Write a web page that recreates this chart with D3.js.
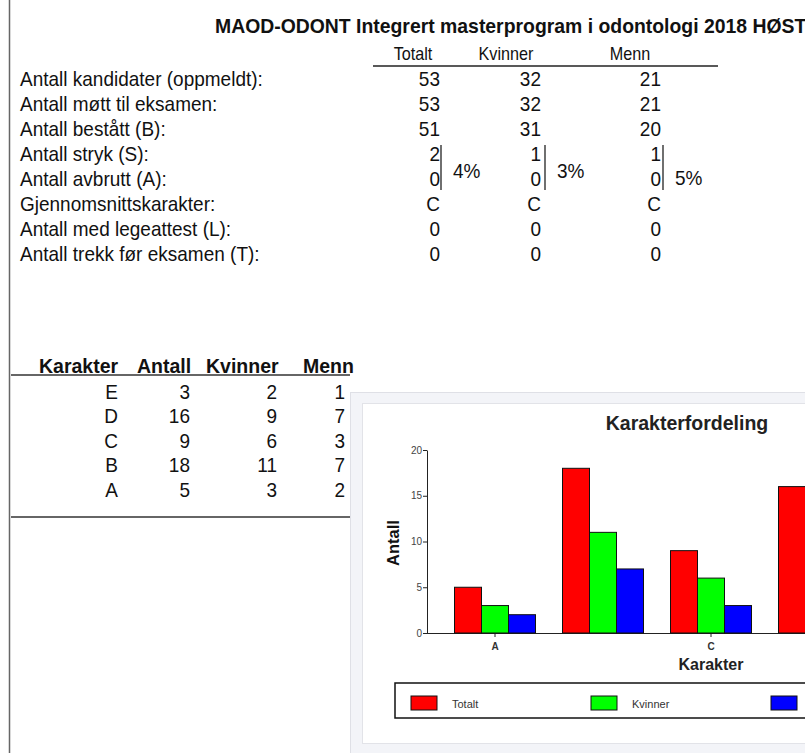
<!DOCTYPE html>
<html>
<head>
<meta charset="utf-8">
<script src="https://cdn.jsdelivr.net/npm/d3@7"></script>
<style>
  html, body { margin: 0; padding: 0; background: #fff; }
  svg { display: block; font-family: "Liberation Sans", Arial, sans-serif; }
</style>
</head>
<body>
<div id="chart"></div>
<script>
// --- data ---
const tittel = "MAOD-ODONT Integrert masterprogram i odontologi 2018 HØST";
const kolonner = ["Totalt", "Kvinner", "Menn"];
const radNavn = [
  "Antall kandidater (oppmeldt):",
  "Antall møtt til eksamen:",
  "Antall bestått (B):",
  "Antall stryk (S):",
  "Antall avbrutt (A):",
  "Gjennomsnittskarakter:",
  "Antall med legeattest (L):",
  "Antall trekk før eksamen (T):"
];
const totaltKol = ["53", "53", "51", "2", "0", "C", "0", "0"];
const kvinnerKol = ["32", "32", "31", "1", "0", "C", "0", "0"];
const mennKol = ["21", "21", "20", "1", "0", "C", "0", "0"];
const strykProsent = ["4%", "3%", "5%"];

const karakterer = ["A", "B", "C", "D", "E"];
const antall = [5, 18, 9, 16, 3];
const kvinner = [3, 11, 6, 9, 2];
const menn = [2, 7, 3, 7, 1];
const serier = ["Totalt", "Kvinner", "Menn"];
const farger = ["#ff0000", "#00ff00", "#0000ff"];
const yTicks = [0, 5, 10, 15, 20];

const W = 805, H = 753;
const svg = d3.select("#chart").append("svg").attr("width", W).attr("height", H);

// hjelpefunksjon for tekst (litt smal skrift som i originalen)
function tekst(g, x, y, s, o = {}) {
  return g.append("text")
    .attr("transform", `translate(${x},${y}) scale(${o.sx || 0.95},1)`)
    .attr("text-anchor", o.anchor || "start")
    .attr("font-size", o.size || 20)
    .attr("font-weight", o.bold ? "bold" : null)
    .attr("fill", o.fill || "#111")
    .text(s);
}

// venstre kantlinje
svg.append("line").attr("x1", 9.5).attr("x2", 9.5).attr("y1", 0).attr("y2", H)
  .attr("stroke", "#666").attr("stroke-width", 1.5);

// --- oppsummeringstabell ---
const topp = svg.append("g");
tekst(topp, 215, 33, tittel, { bold: true, size: 20, sx: 0.97 });
const kolX = [413, 506, 630];
kolonner.forEach((k, i) => tekst(topp, kolX[i], 60, k, { anchor: "middle", size: 18, sx: 0.9 }));
topp.append("line").attr("x1", 373).attr("x2", 718).attr("y1", 66).attr("y2", 66)
  .attr("stroke", "#222").attr("stroke-width", 1.5);

const radY = d3.scaleLinear().domain([0, 1]).range([85.5, 110.5]);
const verdiX = [440, 541, 661];
radNavn.forEach((r, i) => tekst(topp, 20, radY(i), r));
[totaltKol, kvinnerKol, mennKol].forEach((kol, j) => {
  kol.forEach((v, i) => tekst(topp, verdiX[j], radY(i), v, { anchor: "end" }));
});
const strekX = [441, 545, 663];
const prosentY = [178, 178, 185];
strekX.forEach((x, j) => {
  topp.append("line").attr("x1", x).attr("x2", x).attr("y1", 145).attr("y2", 190)
    .attr("stroke", "#222").attr("stroke-width", 1.3);
  tekst(topp, x + 12, prosentY[j], strykProsent[j]);
});

// --- karaktertabell ---
const kt = svg.append("g");
const ktHodeX = [39, 137, 206, 303];
["Karakter", "Antall", "Kvinner", "Menn"].forEach((h, i) =>
  tekst(kt, ktHodeX[i], 373, h, { bold: true, size: 19.5, sx: 1 }));
kt.append("line").attr("x1", 11).attr("x2", 350).attr("y1", 375).attr("y2", 375)
  .attr("stroke", "#333").attr("stroke-width", 1.5);
kt.append("line").attr("x1", 11).attr("x2", 350).attr("y1", 517).attr("y2", 517)
  .attr("stroke", "#333").attr("stroke-width", 1.5);
const ktRadY = d3.scaleLinear().domain([0, 1]).range([398.5, 423]);
const ktX = [118, 190, 277, 345];
const rekkefolge = karakterer.map((k, i) => i).reverse(); // E..A
rekkefolge.forEach((idx, r) => {
  [karakterer[idx], antall[idx], kvinner[idx], menn[idx]].forEach((v, c) =>
    tekst(kt, ktX[c], ktRadY(r), String(v), { anchor: "end" }));
});

// --- diagrampanel ---
svg.append("rect").attr("x", 350.5).attr("y", 392.5).attr("width", 500).attr("height", 400)
  .attr("fill", "#f3f4f8").attr("stroke", "#dfe0e6");
svg.append("rect").attr("x", 362.5).attr("y", 403.5).attr("width", 500).attr("height", 340)
  .attr("fill", "#fff").attr("stroke", "#e2e3e8");

const ch = svg.append("g");
tekst(ch, 687, 430, "Karakterfordeling", { anchor: "middle", bold: true, size: 19.5, sx: 1, fill: "#222" });

const y = d3.scaleLinear().domain([0, 20]).range([633, 450]);
const x0 = d3.scaleBand().domain(karakterer).range([441, 981]).paddingInner(0.25).paddingOuter(0.125);
const x1 = d3.scaleBand().domain(serier).range([0, x0.bandwidth()]);

const yAxis = ch.append("g").attr("transform", "translate(427,0)")
  .call(d3.axisLeft(y).tickValues(yTicks).tickSize(4).tickSizeOuter(0));
yAxis.select(".domain").attr("stroke", "#222");
yAxis.selectAll(".tick line").attr("stroke", "#222");
yAxis.selectAll("text").attr("font-size", 10).attr("fill", "#444").attr("dx", 2)
  .attr("font-family", "Liberation Sans, Arial, sans-serif");

// bare annenhver karakter får merke og etikett (A, C, E)
const visteKar = karakterer.filter((d, i) => i % 2 === 0 && x0(d) < W);
const xAxis = ch.append("g").attr("transform", "translate(0,633)")
  .call(d3.axisBottom(x0).tickValues(visteKar).tickSize(4).tickSizeOuter(0));
xAxis.select(".domain").attr("d", "M427,0.5H981").attr("stroke", "#222");
xAxis.selectAll(".tick line").attr("stroke", "#222");
xAxis.selectAll("text").attr("font-size", 10).attr("font-weight", "bold").attr("fill", "#333")
  .attr("dy", "1em").attr("font-family", "Liberation Sans, Arial, sans-serif");

const verdier = [antall, kvinner, menn];
const grupper = ch.append("g").selectAll("g").data(karakterer).join("g")
  .attr("transform", d => `translate(${x0(d)},0)`);
grupper.selectAll("rect")
  .data((d, i) => serier.map((s, j) => ({ serie: s, v: verdier[j][i], farge: farger[j] })))
  .join("rect")
  .attr("x", d => x1(d.serie))
  .attr("y", d => y(d.v))
  .attr("width", x1.bandwidth())
  .attr("height", d => y(0) - y(d.v))
  .attr("fill", d => d.farge)
  .attr("stroke", "#111").attr("stroke-width", 1);

// aksetitler
ch.append("text").attr("transform", "translate(399,543) rotate(-90)")
  .attr("text-anchor", "middle").attr("font-size", 16.5).attr("font-weight", "bold")
  .attr("fill", "#111").text("Antall");
tekst(ch, 711, 670, "Karakter", { anchor: "middle", bold: true, size: 16, sx: 1, fill: "#222" });

// forklaring
const leg = ch.append("g");
leg.append("rect").attr("x", 395).attr("y", 683).attr("width", 600).attr("height", 35)
  .attr("fill", "none").attr("stroke", "#111").attr("stroke-width", 1.5);
const legX = d3.scalePoint().domain(serier).range([411, 771]);
serier.forEach((s, j) => {
  leg.append("rect").attr("x", legX(s)).attr("y", 696).attr("width", 26).attr("height", 14)
    .attr("fill", farger[j]).attr("stroke", "#111");
  // etiketten for siste serie havner utenfor bildet, som i originalen
  if (legX(s) + 41 < W) tekst(leg, legX(s) + 41, 707.5, s, { size: 11, sx: 1, fill: "#333" });
});
</script>
</body>
</html>
